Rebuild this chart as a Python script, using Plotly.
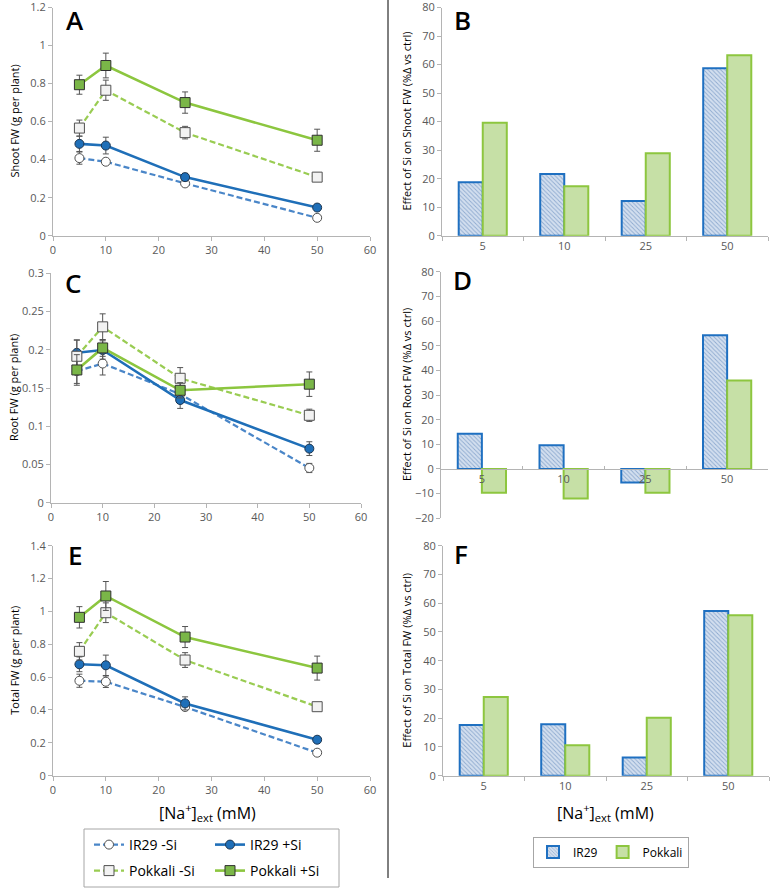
import plotly.graph_objects as go

W, H = 771, 888

# ---------------- data ----------------
na_conc = [5, 10, 25, 50]
na_cat = ["5", "10", "25", "50"]
series_names = ["IR29 -Si", "IR29 +Si", "Pokkali -Si", "Pokkali +Si"]

# Shoot FW (g per plant)
shoot_ir29_nosi = [0.408, 0.389, 0.275, 0.094]
shoot_ir29_si = [0.483, 0.474, 0.308, 0.148]
shoot_pok_nosi = [0.566, 0.765, 0.542, 0.308]
shoot_pok_si = [0.794, 0.895, 0.700, 0.502]
shoot_ir29_nosi_err = [0.032, 0.015, 0.012, 0.010]
shoot_ir29_si_err = [0.04, 0.044, 0.02, 0.01]
shoot_pok_nosi_err = [0.042, 0.053, 0.033, 0.01]
shoot_pok_si_err = [0.05, 0.065, 0.056, 0.058]

# Root FW (g per plant)
root_ir29_nosi = [0.172, 0.182, 0.142, 0.0454]
root_ir29_si = [0.196, 0.1997, 0.1343, 0.0707]
root_pok_nosi = [0.1915, 0.230, 0.1627, 0.1143]
root_pok_si = [0.1736, 0.2024, 0.147, 0.155]
root_ir29_nosi_err = [0.016, 0.015, 0.006, 0.006]
root_ir29_si_err = [0.017, 0.012, 0.011, 0.009]
root_pok_nosi_err = [0.021, 0.017, 0.014, 0.008]
root_pok_si_err = [0.02, 0.011, 0.01, 0.016]

# Total FW (g per plant)
total_ir29_nosi = [0.578, 0.572, 0.418, 0.140]
total_ir29_si = [0.678, 0.672, 0.440, 0.219]
total_pok_nosi = [0.757, 0.992, 0.704, 0.420]
total_pok_si = [0.964, 1.094, 0.844, 0.655]
total_ir29_nosi_err = [0.04, 0.035, 0.012, 0.01]
total_ir29_si_err = [0.045, 0.062, 0.04, 0.012]
total_pok_nosi_err = [0.053, 0.06, 0.045, 0.012]
total_pok_si_err = [0.065, 0.088, 0.064, 0.073]

# Effect of Si (% change vs ctrl)
eff_shoot_ir29 = [18.7, 21.6, 12.2, 58.7]
eff_shoot_pok = [39.6, 17.3, 28.9, 63.3]
eff_root_ir29 = [14.3, 9.6, -5.5, 54.2]
eff_root_pok = [-9.6, -12.0, -9.6, 35.9]
eff_total_ir29 = [17.6, 17.9, 6.3, 57.3]
eff_total_pok = [27.4, 10.6, 20.2, 55.8]

# ---------------- styling ----------------
FONT = "Open Sans"
TICK = "#595959"
AXIS = "#b4b4b4"

styles = {
    "IR29 -Si": dict(line=dict(color="#4a86c8", width=2.2, dash="6px,3px"),
                     marker=dict(symbol="circle", size=9, color="white",
                                 line=dict(color="#505050", width=1))),
    "IR29 +Si": dict(line=dict(color="#1f6fb8", width=2.6),
                     marker=dict(symbol="circle", size=9, color="#1f6fb8",
                                 line=dict(color="#1c3550", width=1))),
    "Pokkali -Si": dict(line=dict(color="#99cc52", width=2.2, dash="6px,3px"),
                        marker=dict(symbol="square", size=10, color="#f2f2f2",
                                    line=dict(color="#505050", width=1))),
    "Pokkali +Si": dict(line=dict(color="#8cc63f", width=2.6),
                        marker=dict(symbol="square", size=10, color="#7ab648",
                                    line=dict(color="#303030", width=1))),
}
legend_of = {"IR29 -Si": "legend", "IR29 +Si": "legend",
             "Pokkali -Si": "legend2", "Pokkali +Si": "legend2"}


def px_x(x):
    return x / W


def px_y(y):
    return 1 - y / H


fig = go.Figure()

line_panels = [
    ("x", "y", [shoot_ir29_nosi, shoot_ir29_si, shoot_pok_nosi, shoot_pok_si],
     [shoot_ir29_nosi_err, shoot_ir29_si_err, shoot_pok_nosi_err, shoot_pok_si_err], True),
    ("x3", "y3", [root_ir29_nosi, root_ir29_si, root_pok_nosi, root_pok_si],
     [root_ir29_nosi_err, root_ir29_si_err, root_pok_nosi_err, root_pok_si_err], False),
    ("x5", "y5", [total_ir29_nosi, total_ir29_si, total_pok_nosi, total_pok_si],
     [total_ir29_nosi_err, total_ir29_si_err, total_pok_nosi_err, total_pok_si_err], False),
]

for xa, ya, vals, errs, show in line_panels:
    for name, v, e in zip(series_names, vals, errs):
        st = styles[name]
        fig.add_trace(go.Scatter(
            x=na_conc, y=v, name=name, mode="lines+markers",
            line=st["line"], marker=st["marker"],
            error_y=dict(type="data", array=e, color="#555555", thickness=1, width=3),
            xaxis=xa, yaxis=ya, showlegend=show, legend=legend_of[name],
            legendgroup=name,
        ))

bar_panels = [
    ("x2", "y2", eff_shoot_ir29, eff_shoot_pok, True),
    ("x4", "y4", eff_root_ir29, eff_root_pok, False),
    ("x6", "y6", eff_total_ir29, eff_total_pok, False),
]
for xa, ya, ir, pk, show in bar_panels:
    fig.add_trace(go.Bar(
        x=na_cat, y=ir, name="IR29", xaxis=xa, yaxis=ya,
        marker=dict(color="#d3dfef",
                    line=dict(color="#1f70c1", width=2),
                    pattern=dict(shape="\\", fgcolor="#4a76b0", bgcolor="#d3dfef",
                                 size=3, solidity=0.3)),
        showlegend=show, legend="legend3", legendgroup="IR29",
    ))
    fig.add_trace(go.Bar(
        x=na_cat, y=pk, name="Pokkali", xaxis=xa, yaxis=ya,
        marker=dict(color="#c6e0a6", line=dict(color="#8dc63f", width=2)),
        showlegend=show, legend="legend3", legendgroup="Pokkali",
    ))

# ---------------- axes ----------------
common_axis = dict(showgrid=False, zeroline=False, showline=True, linecolor=AXIS,
                   linewidth=1, ticks="outside", ticklen=4, tickcolor=AXIS,
                   automargin=False, ticklabeloverflow="allow",
                   tickfont=dict(family=FONT, size=11, color=TICK))


def xaxis_line(x0, x1, anchor):
    return dict(common_axis, domain=[px_x(x0), px_x(x1)], range=[0, 60], dtick=10,
                tick0=0, anchor=anchor)


def yaxis(y0, y1, rng, dtick, anchor):
    return dict(common_axis, domain=[px_y(y1), px_y(y0)], range=rng, dtick=dtick,
                tick0=0, anchor=anchor)


def xaxis_cat(x0, x1, anchor):
    return dict(common_axis, domain=[px_x(x0), px_x(x1)], type="category",
                tickson="boundaries", anchor=anchor)


A_box = (53, 370, 7.5, 235.7)
C_box = (51, 361, 273.3, 502.7)
E_box = (53, 370, 545.7, 775.7)
B_box = (442, 768, 7.5, 235.7)
D_box = (441, 768, 271.7, 518.3)
F_box = (443, 769, 545.7, 775.7)

d_zero_px = D_box[2] + (80 - 0) / 100 * (D_box[3] - D_box[2])

fig.update_layout(
    xaxis=xaxis_line(A_box[0], A_box[1], "y"),
    yaxis=yaxis(A_box[2], A_box[3], [0, 1.2], 0.2, "x"),
    xaxis3=xaxis_line(C_box[0], C_box[1], "y3"),
    yaxis3=yaxis(C_box[2], C_box[3], [0, 0.3], 0.05, "x3"),
    xaxis5=xaxis_line(E_box[0], E_box[1], "y5"),
    yaxis5=yaxis(E_box[2], E_box[3], [0, 1.4], 0.2, "x5"),
    xaxis2=xaxis_cat(B_box[0], B_box[1], "y2"),
    yaxis2=yaxis(B_box[2], B_box[3], [0, 80], 10, "x2"),
    xaxis4=dict(xaxis_cat(D_box[0], D_box[1], "free"), position=px_y(d_zero_px),
                ticks="inside", ticklen=3),
    yaxis4=yaxis(D_box[2], D_box[3], [-20, 80], 10, "x4"),
    xaxis6=xaxis_cat(F_box[0], F_box[1], "y6"),
    yaxis6=yaxis(F_box[2], F_box[3], [0, 80], 10, "x6"),
)

fig.update_layout(barmode="group", bargap=0.41, bargroupgap=0)

# ---------------- annotations ----------------
ann = []
letters = [("A", 75, 0, "top"), ("C", 73, 283, "middle"), ("E", 75, 555, "middle"),
           ("B", 462, 0, "top"), ("D", 462, 280, "middle"), ("F", 461, 554, "middle")]
for t, x, y, ya in letters:
    ann.append(dict(text=t, x=px_x(x), y=px_y(y), xref="paper", yref="paper",
                    showarrow=False, xanchor="center", yanchor=ya,
                    font=dict(family=FONT, size=26, color="black", weight=600)))

ytitles = [
    ("Shoot FW (g per plant)", 15, (A_box[2] + A_box[3]) / 2),
    ("Root FW (g per plant)", 13, (C_box[2] + C_box[3]) / 2),
    ("Total FW (g per plant)", 15, (E_box[2] + E_box[3]) / 2),
    ("Effect of Si on Shoot FW (%Δ vs ctrl)", 407, (B_box[2] + B_box[3]) / 2),
    ("Effect of Si on Root FW (%Δ vs ctrl)", 406, (D_box[2] + D_box[3]) / 2),
    ("Effect of Si on Total FW (%Δ vs ctrl)", 407, (F_box[2] + F_box[3]) / 2),
]
for t, x, y in ytitles:
    ann.append(dict(text=t, x=px_x(x), y=px_y(y), xref="paper", yref="paper",
                    showarrow=False, textangle=-90, xanchor="center", yanchor="middle",
                    font=dict(family=FONT, size=11, color="black")))

for x in (207, 605):
    ann.append(dict(text="[Na<sup>+</sup>]<sub>ext</sub> (mM)", x=px_x(x), y=px_y(812),
                    xref="paper", yref="paper", showarrow=False,
                    xanchor="center", yanchor="middle",
                    font=dict(family=FONT, size=16, color="black")))

fig.update_layout(annotations=ann)

# ---------------- shapes ----------------
fig.update_layout(shapes=[
    dict(type="line", xref="paper", yref="paper", x0=px_x(388), x1=px_x(388),
         y0=px_y(0), y1=px_y(878), line=dict(color="black", width=1)),
    dict(type="rect", xref="paper", yref="paper", x0=px_x(84), x1=px_x(339),
         y0=px_y(887), y1=px_y(829), line=dict(color="#a6a6a6", width=1)),
])

# ---------------- legends ----------------
leg_common = dict(orientation="h", bgcolor="rgba(0,0,0,0)", borderwidth=0,
                  font=dict(family=FONT, size=14, color="black"),
                  xanchor="left", yanchor="middle", itemwidth=30,
                  entrywidth=76, entrywidthmode="pixels", tracegroupgap=0)
fig.update_layout(
    legend=dict(leg_common, x=px_x(89), y=px_y(845)),
    legend2=dict(leg_common, x=px_x(89), y=px_y(871)),
    legend3=dict(orientation="h", bgcolor="white", bordercolor="#a6a6a6", borderwidth=1,
                 font=dict(family=FONT, size=12, color="black"),
                 xanchor="center", yanchor="middle", x=px_x(611), y=px_y(852),
                 itemwidth=30),
)

fig.update_layout(
    width=W, height=H, margin=dict(l=0, r=0, t=0, b=0, pad=0, autoexpand=False),
    paper_bgcolor="white", plot_bgcolor="white",
    font=dict(family=FONT),
)

fig.write_html("out.html", config={"displayModeBar": False},
               post_script="document.body.style.margin='0';document.body.style.overflow='hidden';")
